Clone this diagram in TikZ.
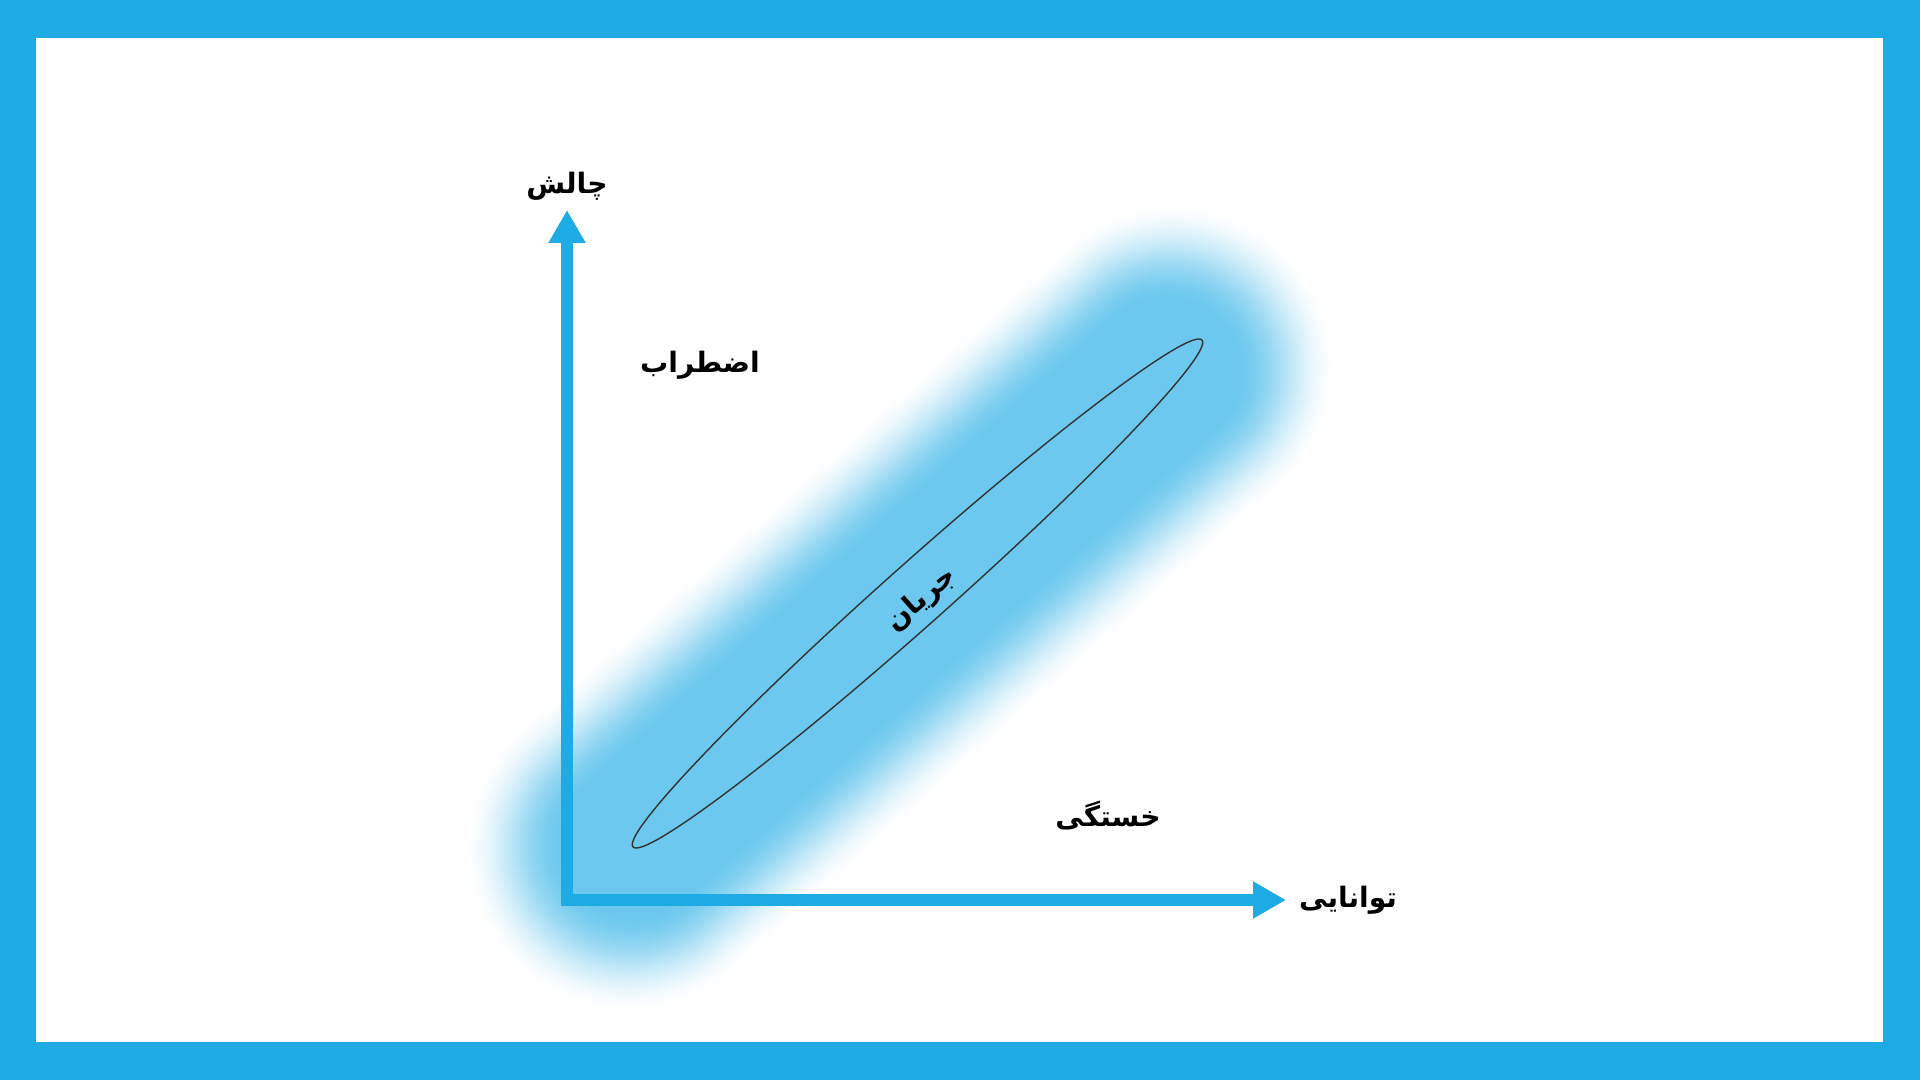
\documentclass[tikz,border=0pt]{standalone}
\usepackage{fontspec}
\newfontfamily\fafont[Script=Arabic]{DejaVu Sans}
\TeXXeTstate=1
\usetikzlibrary{arrows.meta}
\definecolor{frameblue}{RGB}{30,170,226}
\definecolor{glowblue}{RGB}{108,200,238}

\begin{document}
\begin{tikzpicture}[
    axisline/.style={line width=3.4pt, frameblue, line join=miter,
      {Triangle[length=3.3mm, width=3.5mm]}-{Triangle[length=3.3mm, width=3.5mm]}},
    lbl/.style={font=\fafont\bfseries\fontsize{8}{10}\selectfont, inner sep=0pt}
  ]
    % Frame
    \fill[frameblue] (0,0) rectangle (19.2,10.8);
    \fill[white] (0.36,0.38) rectangle (18.83,10.42);

    % Glow band
    \begin{scope}[shift={(9.00,4.72)}, rotate=41.5]
      \foreach \i in {0,...,60}{
        \pgfmathsetmacro{\t}{\i/60}
        \pgfmathsetmacro{\L}{5.30-1.05*\t}
        \pgfmathsetmacro{\W}{1.65-0.95*\t}
        \pgfmathsetmacro{\p}{100*\t*\t*(3-2*\t)}
        \fill[glowblue!\p!white, rounded corners=\W cm] (-\L,-\W) rectangle (\L,\W);
      }
    \end{scope}

    % Flow ellipse
    \draw[black!80, line width=0.4pt, rotate around={41.7:(9.175,4.865)}] (9.175,4.865) ellipse (3.81 and 0.31);
    \node[lbl, rotate=41.7] (flow) at (9.22,4.80) {\beginR جریان\endR};

    % Axes
    \coordinate (ytip) at (5.67,8.70);
    \coordinate (xtip) at (12.86,1.80);
    \draw[axisline] (ytip) |- (xtip);

    % Labels
    \node[lbl] (challenge) at (5.67,8.94) {\beginR چالش\endR};
    \node[lbl] (skill) at (13.48,1.80) {\beginR توانایی\endR};
    \node[lbl] (anxiety) at (7.00,7.15) {\beginR اضطراب\endR};
    \node[lbl] (boredom) at (11.08,2.65) {\beginR خستگی\endR};
\end{tikzpicture}
\end{document}
